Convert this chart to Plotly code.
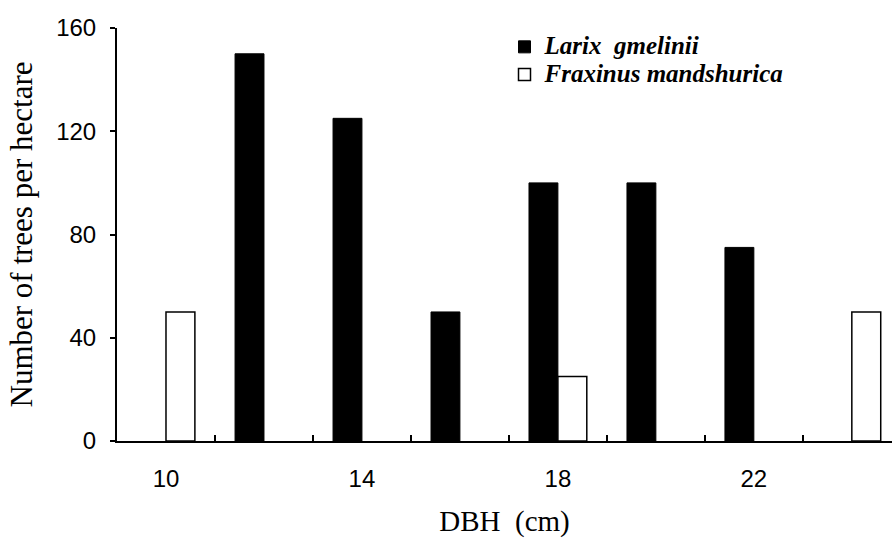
import plotly.graph_objects as go

dbh = [10, 12, 14, 16, 18, 20, 22, 24]
larix = [None, 150, 125, 50, 100, 100, 75, None]
fraxinus = [50, None, None, None, 25, None, None, 50]
x_tick_vals = [10, 14, 18, 22]
x_tick_text = ["10", "14", "18", "22"]
x_boundaries = [11, 13, 15, 17, 19, 21, 23]
y_tick_vals = [0, 40, 80, 120, 160]

legend_style = "font-size:25px"

fig = go.Figure()
fig.add_trace(go.Bar(x=dbh, y=larix,
                     name=f"<span style='{legend_style}'>Larix  gmelinii</span>",
                     marker=dict(color="black", line=dict(color="black", width=1))))
fig.add_trace(go.Bar(x=dbh, y=fraxinus,
                     name=f"<span style='{legend_style}'>Fraxinus mandshurica</span>",
                     marker=dict(color="white", line=dict(color="black", width=1.5))))

fig.update_layout(
    width=892, height=539,
    margin=dict(l=117, r=0, t=28, b=98),
    paper_bgcolor="white", plot_bgcolor="white",
    barmode="group", bargap=0.41, bargroupgap=0,
    showlegend=True,
    legend=dict(x=0.5, y=1.0, xanchor="left", yanchor="top",
                bgcolor="rgba(0,0,0,0)", itemwidth=30, tracegroupgap=0,
                font=dict(family="Liberation Serif", size=19, color="black",
                          weight="bold", style="italic")),
    font=dict(family="Liberation Sans", color="black"),
)
fig.update_xaxes(
    range=[9, 24.82], tickmode="array", tickvals=x_tick_vals, ticktext=x_tick_text,
    ticks="", showgrid=False, zeroline=False,
    showline=True, linecolor="black", linewidth=2,
    tickfont=dict(family="Liberation Sans", size=24, color="black"),
    ticklabelstandoff=15,
    minor=dict(tickmode="array", tickvals=x_boundaries, ticks="inside",
               ticklen=6, tickwidth=1.5, tickcolor="black", showgrid=False),
    title=dict(text="DBH  (cm)", standoff=20,
               font=dict(family="Liberation Serif", size=29, color="black")),
)
fig.update_yaxes(
    range=[0, 160], tickmode="array", tickvals=y_tick_vals,
    ticks="outside", ticklen=5, tickwidth=1.5, tickcolor="black",
    showgrid=False, zeroline=False,
    showline=True, linecolor="black", linewidth=2,
    tickfont=dict(family="Liberation Sans", size=24, color="black"),
    ticklabelstandoff=9,
    title=dict(text="Number of trees per hectare", standoff=14,
               font=dict(family="Liberation Serif", size=31, color="black")),
)

fig.write_html("out.html", config={"displayModeBar": False},
               post_script="document.body.style.margin='0px';")
